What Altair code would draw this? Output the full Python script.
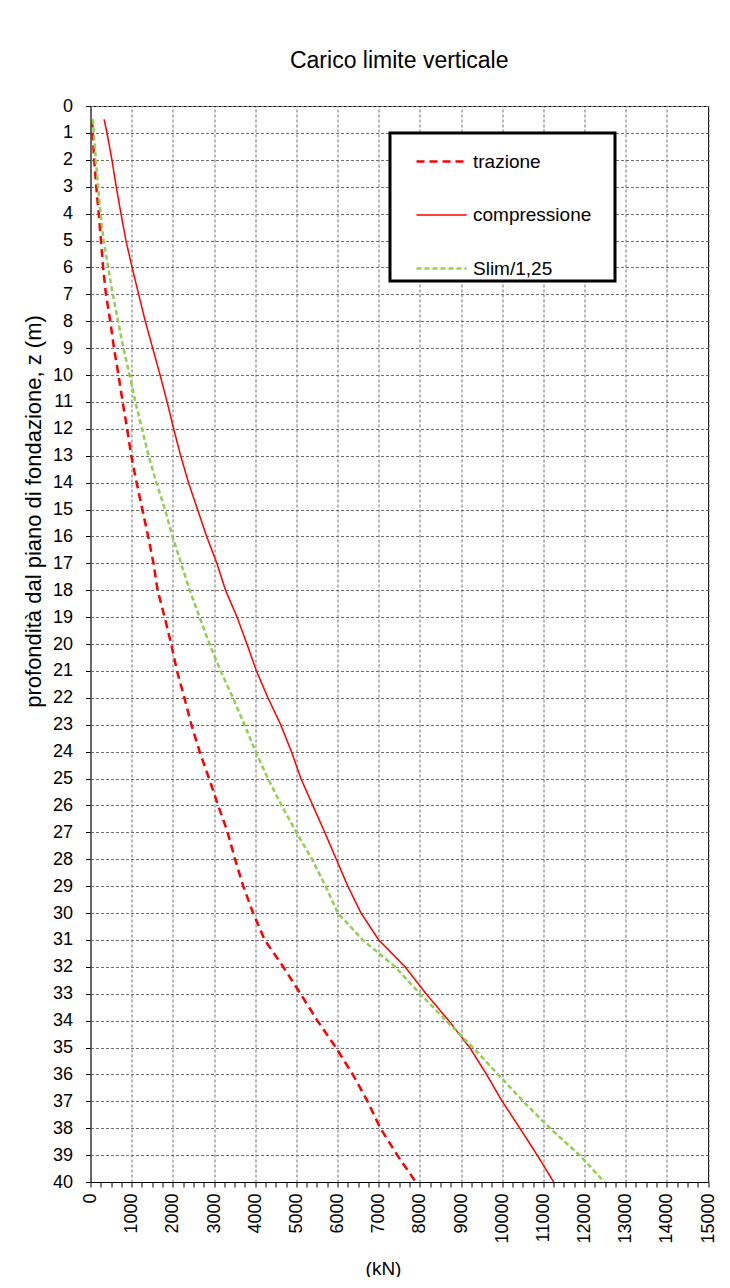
import altair as alt
import pandas as pd

FONT = "Liberation Sans"

depth = [0.5, 1, 2, 3, 4, 5, 6, 7, 8, 9, 10, 11, 12, 13, 14, 15, 16, 17, 18, 19, 20,
         21, 22, 23, 24, 25, 26, 27, 28, 29, 30, 31, 32, 33, 34, 35, 36, 37, 38, 39, 40]

trazione = [40, 50, 90, 140, 200, 255, 305, 375, 480, 570, 680, 780, 890, 990, 1120, 1260,
            1400, 1530, 1630, 1800, 1960, 2100, 2280, 2450, 2650, 2880, 3100, 3330, 3510,
            3710, 3950, 4230, 4680, 5100, 5510, 5960, 6370, 6730, 7040, 7450, 7900]

compressione = [330, 400, 520, 625, 740, 860, 1010, 1170, 1330, 1510, 1690, 1860, 2020, 2190,
                2380, 2600, 2820, 3070, 3280, 3560, 3800, 4030, 4310, 4620, 4880, 5110, 5400,
                5690, 5970, 6250, 6570, 7000, 7640, 8150, 8700, 9210, 9620, 10000, 10430,
                10850, 11250]

slim = [60, 80, 130, 185, 245, 320, 430, 540, 670, 800, 950, 1090, 1250, 1410, 1600, 1810,
        1990, 2200, 2410, 2650, 2890, 3160, 3460, 3740, 4010, 4310, 4640, 5000, 5380, 5710,
        6010, 6610, 7400, 8000, 8640, 9290, 9900, 10510, 11160, 11880, 12480]

series_names = ["trazione", "compressione", "Slim/1,25"]
series_colors = ["#FF0000", "#FF0000", "#92D050"]
series_dash = [[8, 5], [1, 0], [5, 3]]
series_width = [2.5, 1.5, 2.5]

x_major = list(range(0, 15001, 1000))
x_minor = list(range(0, 15001, 250))
y_major = list(range(0, 41))
y_minor = [i / 2 for i in range(0, 81)]

rows = []
for name, vals in zip(series_names, [trazione, compressione, slim]):
    for z, v in zip(depth, vals):
        rows.append({"serie": name, "z": z, "kN": v})
df = pd.DataFrame(rows)

xscale = alt.Scale(domain=[0, 15000], nice=False, zero=False)
yscale = alt.Scale(domain=[0, 40], reverse=True, nice=False, zero=False)

grid = alt.Chart(df).mark_line(opacity=0).encode(
    x=alt.X("kN:Q", scale=xscale, axis=alt.Axis(
        orient="bottom", values=x_major, grid=True, gridColor="#6e6e6e",
        gridDash=[3, 2], gridWidth=1, labels=False, ticks=False, domain=False, title=None)),
    y=alt.Y("z:Q", scale=yscale, axis=alt.Axis(
        orient="left", values=y_major, grid=True, gridColor="#6e6e6e",
        gridDash=[3, 2], gridWidth=1, labels=False, ticks=False, domain=False, title=None)),
    detail="serie:N",
)

leg = alt.Legend(
    title=" ", titleOrient="right", titlePadding=22, orient="none",
    legendX=299.5, legendY=27,
)

lines = alt.Chart(df).mark_line().encode(
    x=alt.X("kN:Q", scale=xscale, axis=alt.Axis(
        orient="bottom", values=x_minor, format="d",
        labelExpr="datum.value % 1000 === 0 ? datum.label : ''",
        labelAngle=270, labelAlign="right", labelBaseline="middle",
        labelPadding=6, tickSize=5, tickColor="black", domainColor="black",
        labelFont=FONT, labelFontSize=18, labelColor="black",
        labelOverlap=False, labelFlush=False, grid=False,
        title="(kN)", titleFont=FONT, titleFontSize=19, titleFontWeight="normal",
        titleColor="black", titleX=292.5, titleY=86, titleAlign="center",
        titleBaseline="middle")),
    y=alt.Y("z:Q", scale=yscale, axis=alt.Axis(
        orient="left", values=y_minor, format="d",
        labelExpr="datum.value % 1 === 0 ? datum.label : ''",
        labelPadding=13, tickSize=5, tickColor="black", domainColor="#555555",
        labelFont=FONT, labelFontSize=18, labelColor="black",
        labelOverlap=False, labelFlush=False, grid=False,
        title="profondità dal piano di fondazione, z (m)", titleFont=FONT,
        titleFontSize=22, titleFontWeight="normal", titleColor="black",
        titleAngle=270, titleX=-57.5, titleY=405, titleAlign="center",
        titleBaseline="middle")),
    color=alt.Color("serie:N", scale=alt.Scale(domain=series_names, range=series_colors), legend=leg),
    strokeDash=alt.StrokeDash("serie:N", scale=alt.Scale(domain=series_names, range=series_dash), legend=leg),
    strokeWidth=alt.StrokeWidth("serie:N", scale=alt.Scale(type="ordinal", domain=series_names, range=series_width), legend=leg),
    order=alt.Order("z:Q"),
)

chart = alt.layer(grid, lines).resolve_axis(
    x="independent", y="independent"
).properties(
    width=617.5,
    height=1076,
    autosize=alt.AutoSizeParams(type="none"),
    padding={"left": 82.5, "top": 98, "right": 14, "bottom": 95},
    title=alt.Title("Carico limite verticale", font=FONT, fontSize=23,
                    fontWeight="normal", color="black", anchor="middle", offset=24),
).configure_view(
    stroke="black", strokeWidth=1
).configure_legend(
    strokeColor="black", strokeWidth=3, fillColor="white", padding=2,
    rowPadding=17, symbolSize=2500, symbolType="stroke", symbolOffset=23,
    labelOffset=5, labelFont=FONT, labelFontSize=19, labelColor="black",
    titleFont=FONT, titleFontSize=19,
)

chart.save("out.html", embed_options={"renderer": "svg", "actions": False})
